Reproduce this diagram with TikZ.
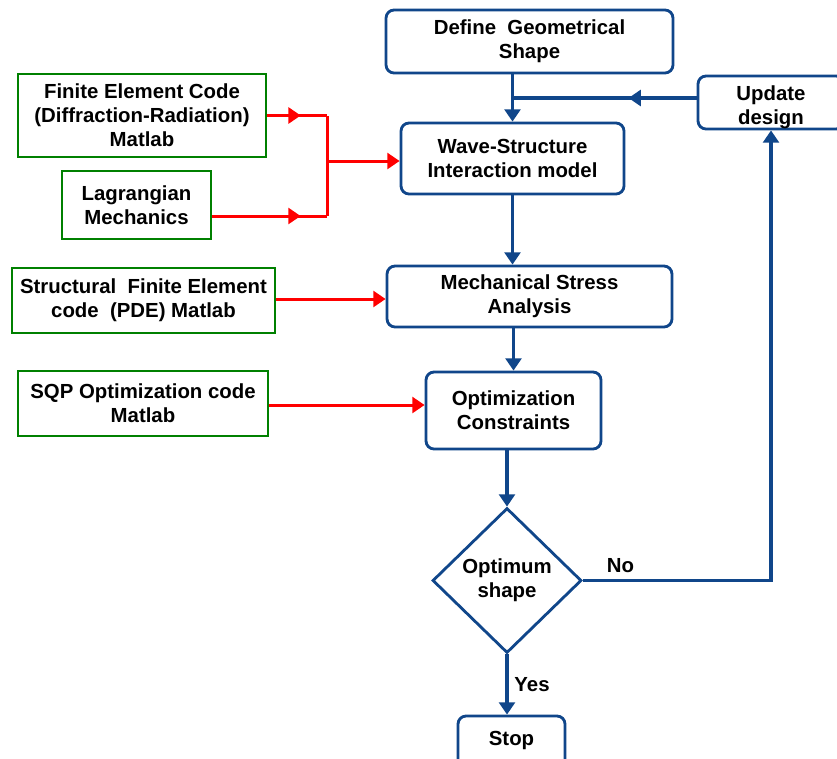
\documentclass[tikz,border=0pt]{standalone}
\usepackage{fontspec}
\setmainfont{Liberation Sans}
\usepackage{xcolor}
\usetikzlibrary{shapes,shapes.geometric,arrows,arrows.meta,positioning,calc,decorations.markings}

\definecolor{flowblue}{RGB}{16,70,138}
\definecolor{toolgreen}{RGB}{0,128,0}
\definecolor{linkred}{RGB}{255,0,0}

\begin{document}
\begin{tikzpicture}[x=0.02cm,y=-0.02cm]
  \tikzstyle{stepbox}=[rectangle, draw=flowblue, line width=1.6pt, rounded corners=0.16cm, align=center, font=\fontsize{11.6}{13.6}\selectfont\bfseries, inner sep=0pt]
  \tikzstyle{toolbox}=[rectangle, draw=toolgreen, line width=1.6pt, align=center, font=\fontsize{11.6}{13.6}\selectfont\bfseries, inner sep=0pt]
  \tikzstyle{decide}=[diamond, draw=flowblue, line width=1.6pt, align=center, font=\fontsize{11.6}{13.6}\selectfont\bfseries, inner sep=0pt, minimum width=2.98cm, minimum height=2.9cm]
  \tikzstyle{flow}=[draw=flowblue, line width=1.8pt, -{Triangle[width=9pt,length=7pt]}]
  \tikzstyle{feed}=[draw=linkred, line width=1.7pt]
  \tikzstyle{lab}=[font=\fontsize{11.6}{13.6}\selectfont\bfseries]
  \tikzset{midarrow/.style={postaction={decorate}, decoration={markings, mark=at position #1 with {\arrow{Triangle[width=9pt,length=7pt]}}}}}

  \clip (0,0) rectangle (837,758);
  \fill[white] (0,0) rectangle (837,758);

  % process boxes
  \node[stepbox, minimum width=5.74cm, minimum height=1.26cm] (define) at (529.5,41.5) {Define~~Geometrical\\Shape};
  \node[stepbox, minimum width=2.92cm, minimum height=1.06cm] (update) at (771,102.5) {\raisebox{-0.1cm}[\height][\depth]{\begin{tabular}{@{}c@{}}Update\\design\end{tabular}}};
  \node[stepbox, minimum width=4.46cm, minimum height=1.42cm] (wave) at (512.5,158.5) {Wave-Structure\\Interaction model};
  \node[stepbox, minimum width=5.70cm, minimum height=1.22cm] (mech) at (529.5,296.5) {Mechanical Stress\\Analysis};
  \node[stepbox, minimum width=3.50cm, minimum height=1.54cm] (opt) at (513.5,410.5) {Optimization\\Constraints};
  \node[decide] (dec) at (507,580.5) {Optimum\\shape};
  \node[stepbox, minimum width=2.14cm, minimum height=1.16cm] (stop) at (511.5,745) {\raisebox{0.1cm}[\height][\depth]{Stop}};

  % tool boxes
  \node[toolbox, minimum width=4.96cm, minimum height=1.66cm] (fec) at (142,115.5) {Finite Element Code\\(Diffraction-Radiation)\\Matlab};
  \node[toolbox, minimum width=2.98cm, minimum height=1.36cm] (lag) at (136.5,205) {Lagrangian\\Mechanics};
  \node[toolbox, minimum width=5.26cm, minimum height=1.30cm] (sfe) at (143.5,300.5) {Structural~~Finite Element\\code~~(PDE) Matlab};
  \node[toolbox, minimum width=5.00cm, minimum height=1.30cm] (sqp) at (143,403.5) {SQP Optimization code\\Matlab};

  % junctions
  \coordinate (join) at (512.5,98);
  \coordinate (fork) at (327,161);

  % main flow
  \draw[flow] (define.south -| wave.north) -- (wave.north);
  \draw[draw=flowblue, line width=1.8pt, midarrow=0.37] (update.west |- join) -- (join);
  \draw[flow] (wave.south) -- (mech.north -| wave.south);
  \draw[flow] (opt.north |- mech.south) -- (opt.north);
  \draw[flow] (dec.north |- opt.south) -- (dec.north);
  \draw[flow] (dec.east) -| (update.south) node[lab, pos=0.1, above] {No};
  \draw[flow] (dec.south) -- (dec.south |- stop.north) node[lab, midway, right] {Yes};

  % inputs
  \draw[feed, midarrow=0.56, color=linkred] (fec.east) -- (fec.east -| fork);
  \draw[feed, midarrow=0.77, color=linkred] ($(lag.east)+(0,11)$) -- ($(lag.east -| fork)+(0,11)$);
  \draw[feed] ($(lag.east -| fork)+(0,11)$) -- (fec.east -| fork);
  \draw[feed, -{Triangle[width=9pt,length=7pt]}] (fork) -- (fork -| wave.west);
  \draw[feed, -{Triangle[width=9pt,length=7pt]}] (sfe.east |- 0,299) -- (mech.west |- 0,299);
  \draw[feed, -{Triangle[width=9pt,length=7pt]}] (sqp.east |- 0,405) -- (opt.west |- 0,405);
\end{tikzpicture}
\end{document}
